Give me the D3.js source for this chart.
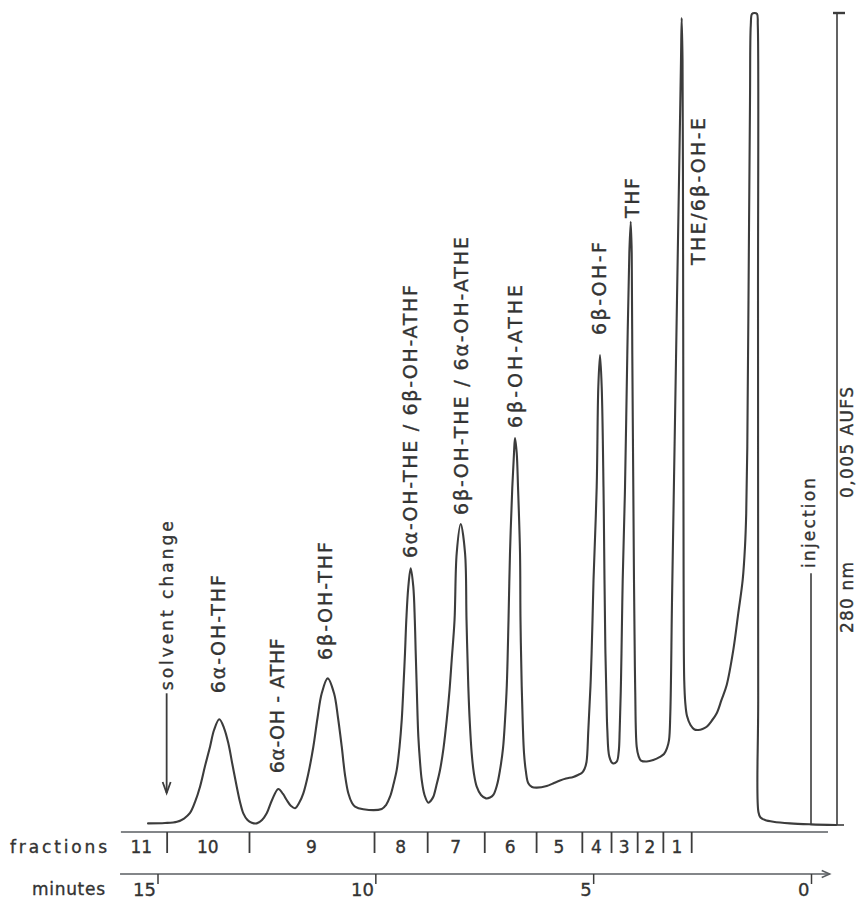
<!DOCTYPE html>
<html><head><meta charset="utf-8">
<script src="https://cdn.jsdelivr.net/npm/d3@7"></script>
<style>
html,body{margin:0;padding:0;background:#fff;}
svg{display:block;}
text{font-family:"DejaVu Sans",sans-serif;fill:#333;stroke:#333;stroke-width:0.35px;}
</style></head><body>
<svg id="chart" width="858" height="901"></svg>
<script>
// ---- data ----
const traceMinutes = [15.217,14.827,14.552,14.391,14.253,14.138,14.024,13.909,13.794,13.702,
13.581,13.473,13.374,13.278,13.181,13.106,13.030,12.934,12.837,12.722,
12.601,12.493,12.371,12.227,12.119,12.034,11.935,11.843,11.751,11.653,
11.545,11.423,11.327,11.230,11.093,10.948,10.856,10.771,10.696,10.620,
10.535,10.466,10.276,9.853,9.755,9.663,9.582,9.509,9.445,9.394,
9.353,9.319,9.289,9.243,9.188,9.128,9.094,9.075,9.048,9.013,
8.974,8.935,8.871,8.784,8.722,8.669,8.596,8.515,8.435,8.361,
8.297,8.247,8.182,8.132,8.040,7.941,7.907,7.866,7.831,7.788,
7.739,7.673,7.574,7.459,7.368,7.292,7.207,7.138,7.069,7.023,
6.982,6.943,6.909,6.856,6.817,6.794,6.755,6.725,6.679,6.668,
6.640,6.615,6.587,6.546,6.489,6.404,6.296,6.066,5.922,5.761,
5.623,5.456,5.348,5.256,5.199,5.153,5.111,5.056,5.015,4.992,
4.919,4.882,4.843,4.804,4.763,4.740,4.721,4.694,4.675,4.629,
4.551,4.460,4.414,4.391,4.361,4.338,4.322,4.269,4.216,4.170,
4.138,4.115,4.102,4.079,4.063,4.049,4.035,4.001,3.959,3.902,
3.771,3.620,3.466,3.374,3.305,3.259,3.229,3.190,3.133,3.076,
3.018,2.984,2.968,2.949,2.938,2.931,2.924,2.910,2.885,2.846,
2.766,2.674,2.587,2.490,2.394,2.284,2.164,2.054,1.935,1.783,
1.669,1.568,1.515,1.487,1.462,1.435,1.400,1.382,1.354,1.297,
1.239,1.221,1.216,1.212,1.207,1.159,1.056,0.865,0.482,0.000,
-0.574];
const traceMAU = [0.010,0.012,0.020,0.040,0.074,0.142,0.236,0.363,0.482,0.585,
0.651,0.597,0.503,0.369,0.236,0.142,0.072,0.031,0.014,0.010,
0.031,0.072,0.154,0.222,0.191,0.154,0.117,0.103,0.135,0.195,
0.308,0.482,0.659,0.811,0.903,0.811,0.659,0.482,0.308,0.195,
0.135,0.113,0.097,0.099,0.123,0.174,0.252,0.339,0.480,0.647,
0.862,1.059,1.262,1.466,1.581,1.466,1.262,1.078,0.831,0.544,
0.388,0.277,0.185,0.137,0.151,0.174,0.246,0.339,0.474,0.647,
0.831,1.016,1.262,1.675,1.853,1.675,1.262,0.852,0.628,0.442,
0.320,0.236,0.185,0.164,0.169,0.185,0.246,0.339,0.474,0.647,
0.862,1.262,1.675,2.081,2.291,2.383,2.291,2.081,1.675,1.262,
0.852,0.616,0.442,0.333,0.257,0.234,0.230,0.240,0.256,0.274,
0.286,0.296,0.308,0.322,0.345,0.388,0.585,0.893,1.262,1.509,
2.081,2.697,2.894,2.697,2.081,1.509,1.098,0.770,0.585,0.421,
0.380,0.390,0.450,0.585,0.893,1.262,1.509,2.081,2.906,3.522,
3.715,3.522,2.906,2.081,1.509,1.139,0.831,0.482,0.425,0.397,
0.391,0.400,0.419,0.437,0.474,0.523,0.690,1.385,2.309,3.233,
4.156,4.711,4.969,4.711,3.849,2.617,1.509,0.893,0.751,0.671,
0.616,0.588,0.585,0.591,0.605,0.640,0.688,0.770,0.862,1.078,
1.304,1.509,1.714,1.919,2.329,3.233,4.464,4.926,4.994,5.000,
4.994,4.926,3.233,0.770,0.080,0.046,0.031,0.020,0.010,0.004,
0.000];

const fractionNames = ["11","10","9","8","7","6","5","4","3","2","1"];
const fractionEdges = [15.95,14.79,12.90,10.03,8.81,7.50,6.31,5.26,4.59,3.99,3.40,2.75];
const minuteTicks = [15,10,5,0];
const minuteLabels = ["15","10","5","0"];

const peakLabels = ["6α-OH-THF","6α-OH - ATHF","6β-OH-THF","6α-OH-THE / 6β-OH-ATHF",
  "6β-OH-THE / 6α-OH-ATHE","6β-OH-ATHE","6β-OH-F","THF","THE/6β-OH-E"];
const labelMinutes = [13.599,12.245,11.155,9.204,8.033,6.794,4.866,4.108,2.594];
const labelBaseMAU = [0.811,0.318,1.016,1.644,1.909,2.445,3.017,3.738,3.448];
const labelTopMAU  = [1.539,1.150,1.743,3.325,3.621,3.325,3.590,3.984,4.353];

const solventChangeMinutes = 14.79;
const solventArrowMAU = [0.811, 0.197];   // top of arrow, tip
const solventTextMAU = [0.83, 1.87];
const injectionMinutes = 0;
const injectionLineMAU = 1.55;
const injectionTextMAU = [1.583, 2.137];
const fullScaleMAU = 5;
const scaleLabels = ["280 nm","0,005 AUFS"];

// ---- scales ----
const svg = d3.select("#chart");
const x = d3.scaleLinear().domain([15, 0]).range([157.5, 811]);
const y = d3.scaleLinear().domain([0, fullScaleMAU]).range([825, 13]);
const ink = "#3c3c3c", axisInk = "#5a5e62";

// ---- trace ----
const pts = d3.zip(traceMinutes, traceMAU);
const line = d3.line().x(d => x(d[0])).y(d => y(d[1])).curve(d3.curveCatmullRom.alpha(0.5));
svg.append("path").datum(pts).attr("d", line)
  .attr("fill","none").attr("stroke",ink).attr("stroke-width",2.1)
  .attr("stroke-linejoin","round").attr("stroke-linecap","round");

// ---- rotated text helper ----
function vtext(cx, yb, yt, str, size, dy){
  return svg.append("text")
    .attr("transform", `translate(${cx},${yb}) rotate(-90)`)
    .attr("dy", dy).attr("font-size", size)
    .attr("textLength", yb - yt).attr("lengthAdjust","spacing")
    .text(str);
}

// peak labels
peakLabels.forEach((s,i) => {
  vtext(x(labelMinutes[i]), y(labelBaseMAU[i]), y(labelTopMAU[i]), s, 19, "0.36em");
});

// solvent change arrow
const sx = x(solventChangeMinutes);
svg.append("line").attr("x1",sx).attr("x2",sx)
  .attr("y1",y(solventArrowMAU[0])).attr("y2",y(solventArrowMAU[1]))
  .attr("stroke",ink).attr("stroke-width",1.8);
svg.append("path")
  .attr("d",`M${sx-4},${y(solventArrowMAU[1])-11}L${sx},${y(solventArrowMAU[1])}L${sx+4},${y(solventArrowMAU[1])-11}`)
  .attr("fill","none").attr("stroke",ink).attr("stroke-width",1.8);
vtext(sx+1, y(solventTextMAU[0]), y(solventTextMAU[1]), "solvent   change", 17, "0.3em");

// injection
const ix = x(injectionMinutes);
svg.append("line").attr("x1",ix).attr("x2",ix).attr("y1",y(0)).attr("y2",y(injectionLineMAU))
  .attr("stroke",ink).attr("stroke-width",1.6);
vtext(ix-1, y(injectionTextMAU[0]), y(injectionTextMAU[1]), "injection", 17, "0.3em");

// full-scale bar
const bx = x(0) + 26;
svg.append("line").attr("x1",bx).attr("x2",bx).attr("y1",y(0)).attr("y2",y(fullScaleMAU))
  .attr("stroke",ink).attr("stroke-width",1.6);
svg.append("line").attr("x1",bx-4).attr("x2",bx+8).attr("y1",y(fullScaleMAU)).attr("y2",y(fullScaleMAU))
  .attr("stroke",ink).attr("stroke-width",2.4);
svg.append("line").attr("x1",bx-4).attr("x2",bx+7).attr("y1",y(0)).attr("y2",y(0))
  .attr("stroke",ink).attr("stroke-width",1.6);
vtext(bx+10, 633, 562, scaleLabels[0], 17, "0.36em");
vtext(bx+10, 498, 387, scaleLabels[1], 17, "0.36em");

// ---- fractions axis ----
const fy = 832;
svg.append("line").attr("x1",x(15.84)).attr("x2",x(-0.39)).attr("y1",fy).attr("y2",fy)
  .attr("stroke",axisInk).attr("stroke-width",1.6);
const fAxis = d3.axisBottom(x).tickValues(fractionEdges.slice(1)).tickSize(21).tickFormat("");
const fg = svg.append("g").attr("transform",`translate(0,${fy})`).call(fAxis);
fg.select(".domain").remove();
fg.selectAll(".tick line").attr("stroke",ink).attr("stroke-width",1.8);
svg.selectAll(".flab").data(fractionNames).join("text").attr("class","flab")
  .attr("x",(d,i)=> (x(fractionEdges[i]) + x(fractionEdges[i+1]))/2)
  .attr("y",853).attr("text-anchor","middle").attr("font-size",17).text(d=>d);
svg.append("text").attr("x",10).attr("y",853).attr("font-size",17)
  .attr("textLength",97).attr("lengthAdjust","spacing").text("fractions");

// ---- minutes axis ----
const my = 874;
const mEnd = x(-0.43);
svg.append("line").attr("x1",x(15.86)).attr("x2",mEnd).attr("y1",my).attr("y2",my)
  .attr("stroke",axisInk).attr("stroke-width",1.6);
svg.append("path").attr("d",`M${mEnd-8},${my-3.5}L${mEnd},${my}L${mEnd-8},${my+3.5}`)
  .attr("fill","none").attr("stroke",axisInk).attr("stroke-width",1.5);
const mAxis = d3.axisBottom(x).tickValues(minuteTicks).tickSize(10).tickFormat((d,i)=>minuteLabels[i]);
const mg = svg.append("g").attr("transform",`translate(0,${my})`).call(mAxis);
mg.select(".domain").remove();
mg.selectAll(".tick line").attr("stroke",ink).attr("stroke-width",1.5);
mg.selectAll(".tick text").attr("x",-2).attr("y",22).attr("dy",0)
  .attr("text-anchor","end").attr("font-size",18).attr("font-family","DejaVu Sans")
  .attr("fill","#333").attr("stroke","#333").attr("stroke-width",0.35);
svg.append("text").attr("x",32).attr("y",895).attr("font-size",17)
  .attr("textLength",73).attr("lengthAdjust","spacing").text("minutes");
</script>
</body></html>
